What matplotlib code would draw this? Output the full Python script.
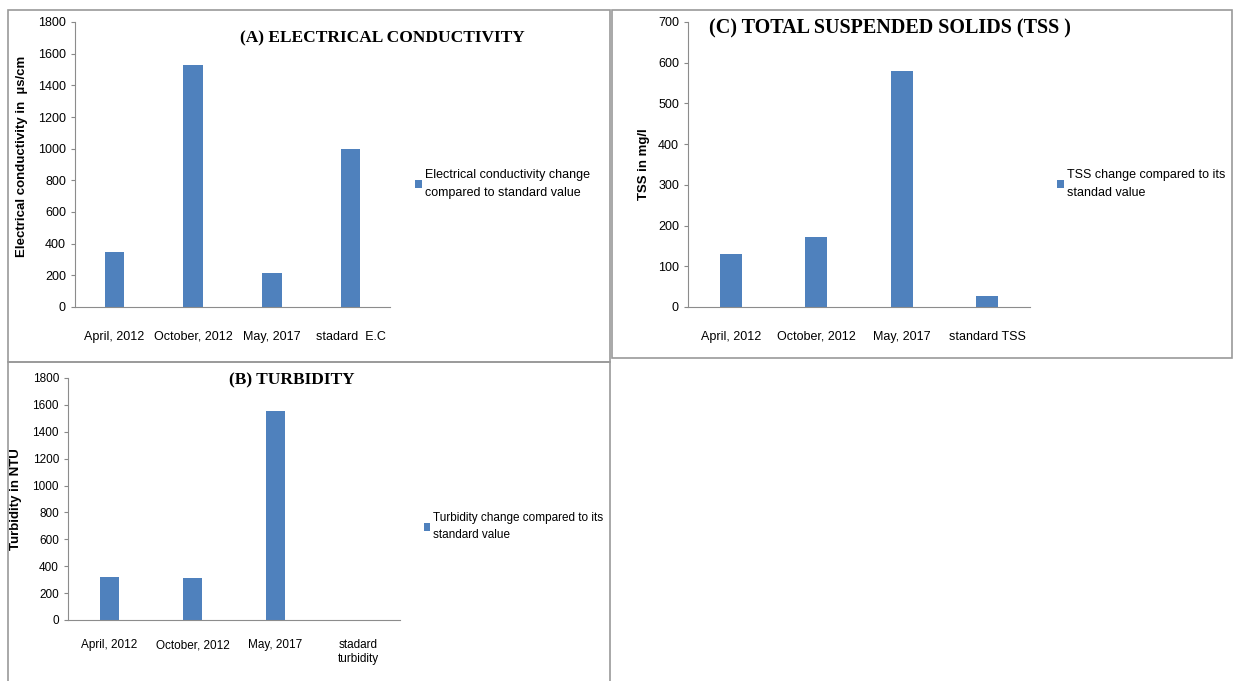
import matplotlib.pyplot as plt
from matplotlib.patches import Rectangle

# Data
months = ['April, 2012', 'October, 2012', 'May, 2017']
ec_vals = [350, 1530, 215, 1000]
tss_vals = [130, 173, 580, 28]
turb_vals = [320, 310, 1555, 0]

ec_labels = months + ['stadard  E.C']
tss_labels = months + ['standard TSS']
turb_labels = months + ['stadard\nturbidity']

bar_color = '#4F81BD'
plt.rcParams['font.family'] = ['Liberation Sans', 'DejaVu Sans']

fig = plt.figure(figsize=(12.34, 6.81), dpi=100)

# panel frames (pixel coords of the reference)
W, H = 1234, 681
def frame(x0, y0, x1, y1):
    fig.patches.append(Rectangle((x0 / W, 1 - y1 / H), (x1 - x0) / W, (y1 - y0) / H,
                                 transform=fig.transFigure, fill=False,
                                 edgecolor='#9a9a9a', lw=1.2))
frame(8, 10, 610, 362)
frame(612, 10, 1232, 358)
frame(8, 362, 610, 683)


def panel(rect, labels, vals, ymax, step, ylabel, title, title_xy, title_fs,
          leg_text, leg_xy, leg_fs, bw, pad):
    ax = fig.add_axes(rect)
    x = range(len(vals))
    ax.bar(x, vals, width=bw, color=bar_color, label=leg_text)
    ax.set_xlim(-0.5, len(vals) - 0.5)
    ax.set_ylim(0, ymax)
    ax.set_yticks(range(0, ymax + 1, step))
    ax.set_xticks(list(x))
    ax.set_xticklabels(labels, fontsize=9)
    ax.tick_params(axis='x', length=0, pad=pad)
    ax.tick_params(axis='y', length=3, color='#888888', labelsize=9)
    for s in ['top', 'right']:
        ax.spines[s].set_visible(False)
    for s in ['left', 'bottom']:
        ax.spines[s].set_color('#8c8c8c')
    ax.set_ylabel(ylabel, fontsize=9.5, fontweight='bold')
    fig.text(title_xy[0] / W, 1 - title_xy[1] / H, title, family='Liberation Serif',
             fontweight='bold', fontsize=title_fs, ha='center', va='center')
    leg = ax.legend(loc='upper left', bbox_to_anchor=(leg_xy[0] / W, 1 - leg_xy[1] / H),
                    bbox_transform=fig.transFigure, frameon=False, fontsize=leg_fs,
                    handlelength=0.5, handleheight=0.6, handletextpad=0.3, borderpad=0)
    for t in leg.get_texts():
        t.set_linespacing(1.6)
    return ax


ax_a = panel([75 / W, 1 - 307 / H, 315 / W, 285 / H], ec_labels, ec_vals, 1800, 200,
             'Electrical conductivity in  \u00b5s/cm', '(A) ELECTRICAL CONDUCTIVITY', (382, 38), 12.5,
             'Electrical conductivity change\ncompared to standard value', (409, 163), 9, 0.25, 17)
ax_a.yaxis.set_label_coords(-0.15, 0.53)

ax_c = panel([688 / W, 1 - 307 / H, 342 / W, 285 / H], tss_labels, tss_vals, 700, 100,
             'TSS in mg/l', '(C) TOTAL SUSPENDED SOLIDS (TSS )', (890, 28), 14.5,
             'TSS change compared to its\nstandad value', (1051, 163), 9, 0.26, 17)
ax_c.yaxis.set_label_coords(-0.11, 0.5)

ax_b = panel([68 / W, 1 - 620 / H, 332 / W, 242 / H], turb_labels, turb_vals, 1800, 200,
             'Turbidity in NTU', '(B) TURBIDITY', (292, 380), 12.5,
             'Turbidity change compared to its\nstandard value', (418, 506), 8.5, 0.24, 14)
ax_b.yaxis.set_label_coords(-0.14, 0.5)
ax_b.tick_params(axis='both', labelsize=8.5)
for t in ax_b.get_xticklabels():
    t.set_va('top')

fig.savefig('out.png', dpi=100)
